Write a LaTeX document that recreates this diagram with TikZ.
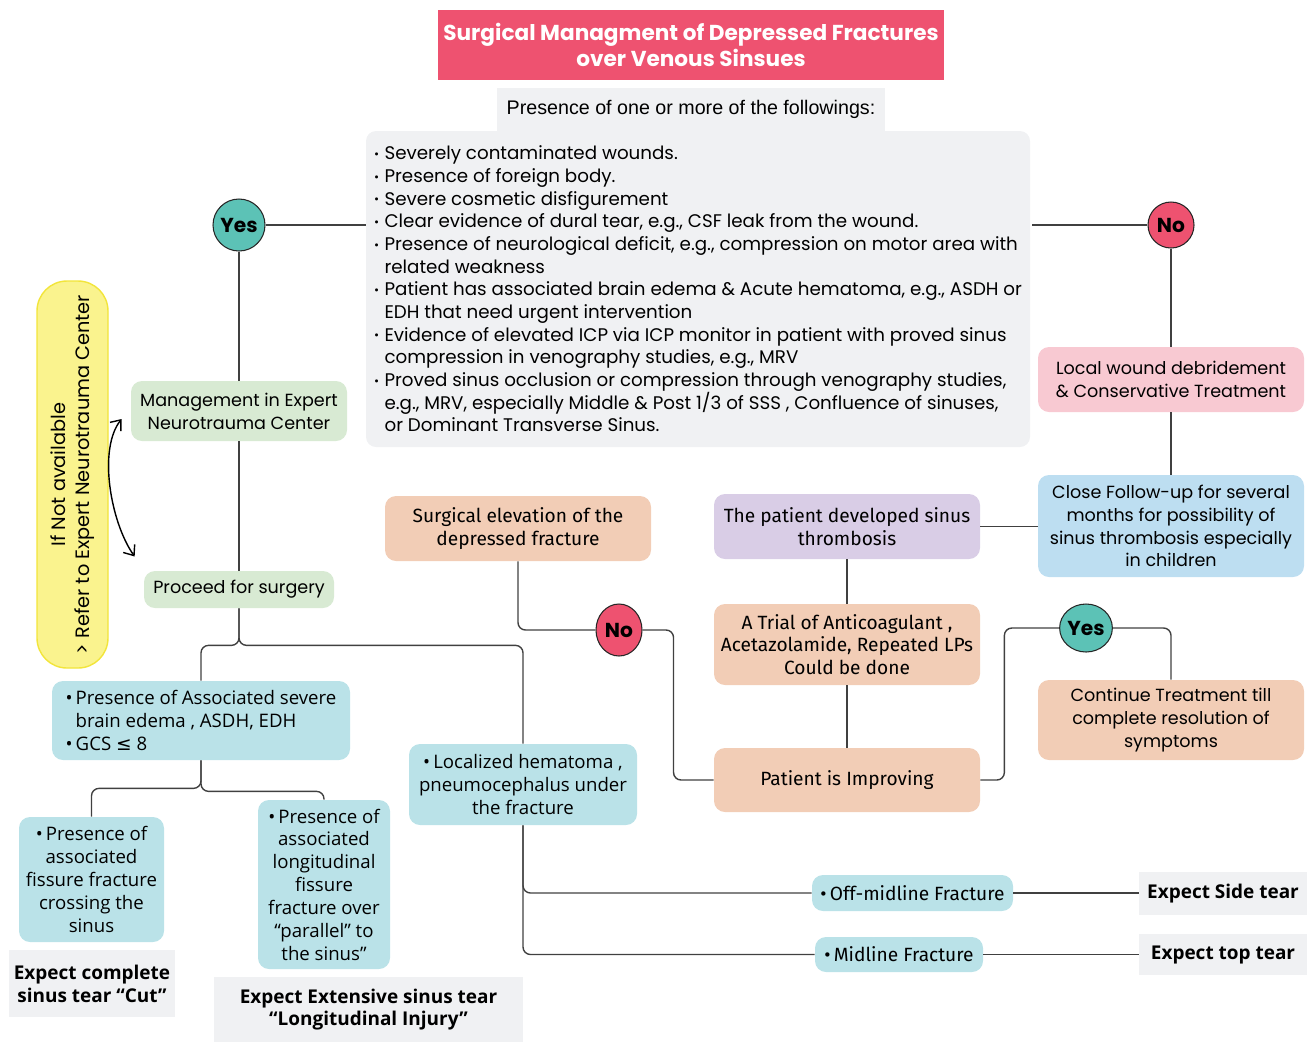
\documentclass[tikz,border=0pt]{standalone}
\usepackage{fontspec}
\setmainfont{Poppins}
\newfontfamily\headfont{Liberation Sans}
\newfontfamily\narrowfont{Fira Sans}
\newfontfamily\roundfont{Open Sans}
\newfontfamily\symfont{DejaVu Sans}
\usetikzlibrary{shapes.geometric,arrows.meta}

\definecolor{titleRed}{HTML}{EE5270}
\definecolor{paleGray}{HTML}{F0F1F3}
\definecolor{tealYes}{HTML}{5CC2B6}
\definecolor{paleGreen}{HTML}{D8EAD3}
\definecolor{paleCyan}{HTML}{BAE2E8}
\definecolor{peach}{HTML}{F2CDB6}
\definecolor{lavender}{HTML}{D9CDE6}
\definecolor{palePink}{HTML}{F8C9D2}
\definecolor{paleBlue}{HTML}{BDDEF1}
\definecolor{lemon}{HTML}{FAF38E}
\definecolor{lemonEdge}{HTML}{F2E53B}
\definecolor{lineGray}{HTML}{404040}

% small bullet for the list, plain bullet in the cards
\newcommand\lbul{\makebox[6pt][l]{\raisebox{0.15ex}{\scriptsize •}}}
\newcommand\ind{\hspace*{6pt}}
\newcommand\bul{•\,}

\begin{document}
\begin{tikzpicture}[x=0.02cm,y=-0.02cm,>={Straight Barb[length=5pt,width=8pt]},
  link/.style={draw=lineGray,line width=0.8pt,rounded corners=0.15cm},
  boxsz/.style 2 args={minimum width=#1*0.02cm,minimum height=#2*0.02cm},
  card/.style={rounded corners=0.22cm,inner sep=2pt,align=center},
  flat/.style={fill=paleGray,inner sep=2pt,align=center},
  disc/.style={draw=black!85,line width=0.6pt,inner sep=0pt,
    font=\fontsize{11.5}{13}\selectfont\bfseries},
  wide/.style={font=\fontsize{10}{13}\selectfont},
  narrow/.style={font=\narrowfont\fontsize{10.9}{13}\selectfont},
  round/.style={font=\roundfont\fontsize{10.6}{13}\selectfont},
  verdict/.style={flat,font=\roundfont\bfseries\fontsize{10.8}{13}\selectfont}]
\useasboundingbox (0,0) rectangle (1307,1042);

% top of the chart
\node[fill=titleRed,text=white,boxsz={506}{70},align=center,
  font=\bfseries\fontsize{12.3}{14.7}\selectfont] (title) at (691,45)
  {Surgical Managment of Depressed Fractures\\over Venous Sinsues};
\node[flat,boxsz={388}{43},font=\headfont\fontsize{11.2}{13}\selectfont] (head) at (691,109.5)
  {Presence of one or more of the followings:};
\node[fill=paleGray,rounded corners=0.2cm,boxsz={664}{316},align=left,
  font=\fontsize{10.4}{12.9}\selectfont] (crit) at (698,289) {%
\lbul Severely contaminated wounds.\\
\lbul Presence of foreign body.\\
\lbul Severe cosmetic disfigurement\\
\lbul Clear evidence of dural tear, e.g., CSF leak from the wound.\\
\lbul Presence of neurological deficit, e.g., compression on motor area with\\
\ind related weakness\\
\lbul Patient has associated brain edema \& Acute hematoma, e.g., ASDH or\\
\ind EDH that need urgent intervention\\
\lbul Evidence of elevated ICP via ICP monitor in patient with proved sinus\\
\ind compression in venography studies, e.g., MRV\\
\lbul Proved sinus occlusion or compression through venography studies,\\
\ind e.g., MRV, especially Middle \& Post 1/3 of SSS , Confluence of sinuses,\\
\ind or Dominant Transverse Sinus.};

% yes / no
\node[disc,circle,fill=tealYes,boxsz={52}{52}] (yesA) at (239,225) {Yes};
\node[disc,circle,fill=titleRed,boxsz={46}{46}] (noA) at (1171,225) {No};
\draw[link] (yesA.east) -- (yesA -| crit.west);
\draw[link] (noA.west) -- ([xshift=0.04cm]noA -| crit.east);

% left branch
\node[card,wide,fill=paleGreen,boxsz={216}{60}] (mgmt) at (239,411)
  {Management in Expert\\Neurotrauma Center};
\node[card,wide,fill=paleGreen,boxsz={190}{37}] (proceed) at (239,589.5)
  {Proceed for surgery};
\node[rotate=90,fill=lemon,draw=lemonEdge,line width=0.8pt,rounded corners=0.6cm,
  boxsz={387}{71},align=center,font=\fontsize{11}{14}\selectfont] (refer) at (72.5,474.5)
  {If Not available\\> Refer to Expert Neurotrauma Center};
\draw[link] (yesA) -- (mgmt);
\draw[link] (mgmt) -- (proceed);
\draw[<->,line width=0.8pt] ([shift={(-9,8)}]mgmt.west)
  .. controls +(-24,30) and +(-24,-34) .. ([shift={(-9,-33)}]proceed.west);

\node[card,round,fill=paleCyan,boxsz={298}{79},align=left] (assoc) at (201,720.5)
  {\bul Presence of Associated severe\\\hphantom{\bul}brain edema , ASDH, EDH\\\bul GCS {\symfont ≤} 8};
\node[card,round,fill=paleCyan,boxsz={145}{125}] (fissure) at (91.5,879.5)
  {\bul Presence of\\associated\\fissure fracture\\crossing the\\sinus};
\node[verdict,boxsz={166}{67}] (cut) at (92,983.5)
  {Expect complete\\sinus tear “Cut”};
\node[card,round,fill=paleCyan,boxsz={132}{169}] (longi) at (324,884.5)
  {\bul Presence of\\associated\\longitudinal\\fissure\\fracture over\\“parallel” to\\the sinus”};
\node[verdict,boxsz={309}{65}] (extens) at (368.5,1009.5)
  {Expect Extensive sinus tear\\“Longitudinal Injury”};
\node[card,round,fill=paleCyan,boxsz={228}{81}] (local) at (523,784.5)
  {\bul Localized hematoma ,\\pneumocephalus under\\the fracture};
\draw[link] (proceed.south) -- ++(0,37) -| (assoc.north);
\draw[link] (proceed.south) -- ++(0,37) -| (local.north);
\draw[link] (assoc.south) -- ++(0,28) -| (fissure.north);
\draw[link] (assoc.south) -- ++(0,31) -| (longi.north);

% bottom right
\node[card,narrow,fill=paleCyan,boxsz={201}{36}] (offmid) at (912.5,893)
  {\bul Off-midline Fracture};
\node[card,narrow,fill=paleCyan,boxsz={168}{35}] (midl) at (899,954.5)
  {\bul Midline Fracture};
\node[verdict,boxsz={168}{43}] (side) at (1223,893.5) {Expect Side tear};
\node[verdict,boxsz={168}{41}] (top) at (1223,954.5) {Expect top tear};
\draw[link] (local.south) |- (offmid.west);
\draw[link] (local.south) |- (midl.west);
\draw[link] (offmid.east) -- (offmid.east -| side.west);
\draw[link] (midl.east) -- (midl.east -| top.west);

% middle
\node[card,narrow,fill=peach,boxsz={266}{65}] (elev) at (518,528.5)
  {Surgical elevation of the\\depressed fracture};
\node[disc,ellipse,fill=titleRed,boxsz={46}{52}] (noB) at (619,630) {No};
\node[card,narrow,fill=lavender,boxsz={266}{65}] (thromb) at (847,526.5)
  {The patient developed sinus\\thrombosis};
\node[card,narrow,fill=peach,boxsz={266}{81}] (trial) at (847,644.5)
  {A Trial of Anticoagulant ,\\Acetazolamide, Repeated LPs\\Could be done};
\node[card,narrow,fill=peach,boxsz={266}{64}] (improv) at (847,780)
  {Patient is Improving};
\node[disc,ellipse,fill=tealYes,boxsz={50}{48}] (yesB) at (1086,628) {Yes};
\draw[link] (elev.south) |- (noB.west);
\draw[link] (noB.east) -- ++(31,0) |- (improv.west);
\draw[link] (thromb) -- (trial);
\draw[link] (trial) -- (improv);
\draw[link] (improv.east) -- ++(24,0) |- (yesB.west);

% right column
\node[card,wide,fill=palePink,boxsz={266}{65}] (wound) at (1171,379.5)
  {Local wound debridement\\\& Conservative Treatment};
\node[card,wide,fill=paleBlue,boxsz={266}{102}] (follow) at (1171,526)
  {Close Follow-up for several\\months for possibility of\\sinus thrombosis especially\\in children};
\node[card,wide,fill=peach,boxsz={266}{80}] (cont) at (1171,720)
  {Continue Treatment till\\complete resolution of\\symptoms};
\draw[link] (noA) -- (wound);
\draw[link] (wound) -- (follow);
\draw[link] (thromb.east) -- (thromb.east -| follow.west);
\draw[link] (yesB.east) -| (cont.north);
\end{tikzpicture}
\end{document}
